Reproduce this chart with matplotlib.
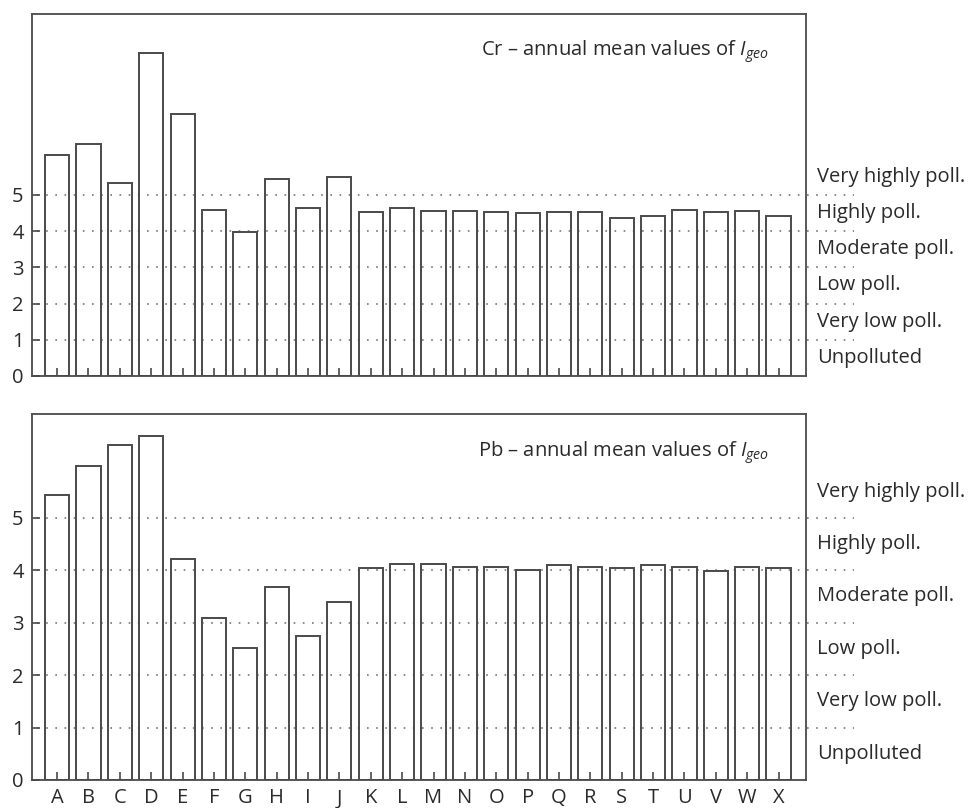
import matplotlib.pyplot as plt
import matplotlib.transforms as mtransforms
import numpy as np

plt.rcParams['font.family'] = ['Open Sans', 'DejaVu Sans']
plt.rcParams['mathtext.fontset'] = 'custom'
plt.rcParams['mathtext.it'] = 'Open Sans:italic'
plt.rcParams['mathtext.rm'] = 'Open Sans'

sites = list('ABCDEFGHIJKLMNOPQRSTUVWX')

cr_igeo = [6.11, 6.42, 5.34, 8.93, 7.23, 4.58, 3.98, 5.45, 4.63, 5.49, 4.53, 4.64,
           4.55, 4.55, 4.52, 4.50, 4.52, 4.53, 4.37, 4.43, 4.58, 4.53, 4.57, 4.43]
pb_igeo = [5.44, 5.99, 6.39, 6.56, 4.22, 3.08, 2.52, 3.68, 2.74, 3.39, 4.04, 4.11,
           4.12, 4.07, 4.07, 4.01, 4.10, 4.07, 4.04, 4.10, 4.07, 3.98, 4.06, 4.04]

classes = ['Unpolluted', 'Very low poll.', 'Low poll.', 'Moderate poll.',
           'Highly poll.', 'Very highly poll.']
class_bounds = [1, 2, 3, 4, 5]

panels = [
    (cr_igeo, 'Cr', 10.0, [0.0329, 0.5347, 0.795, 0.448]),
    (pb_igeo, 'Pb', 6.98, [0.0329, 0.0347, 0.795, 0.453]),
]

edge = '#4a4a4a'
txt = '#2a2a2a'
fs = 14.5
fig = plt.figure(figsize=(9.73, 8.08), dpi=100)

for i, (vals, metal, ytop, rect) in enumerate(panels):
    ax = fig.add_axes(rect)
    x = np.arange(len(sites))
    trans = mtransforms.blended_transform_factory(ax.transAxes, ax.transData)
    for b in class_bounds:
        ax.plot([0.006, 1.063], [b, b], transform=trans, clip_on=False,
                color='#777777', linestyle=(0, (1, 4.5)), linewidth=1.2, zorder=1)
    ax.bar(x, vals, width=0.77, facecolor='none', edgecolor=edge,
           linewidth=1.4, zorder=2)
    ax.set_xlim(-0.8, 23.86)
    ax.set_ylim(0, ytop)
    ax.set_yticks(range(6))
    ax.set_xticks(x)
    if i == 1:
        ax.set_xticklabels(sites)
    else:
        ax.set_xticklabels([])
    ax.tick_params(direction='in', length=6, width=1.2, color=edge,
                   labelsize=fs, labelcolor=txt, pad=6)
    for s in ax.spines.values():
        s.set_color(edge)
        s.set_linewidth(1.3)
    for k, name in enumerate(classes):
        ax.text(1.015, k + 0.5, name, transform=trans, ha='left', va='center',
                fontsize=fs, color=txt, clip_on=False)
    ax.text(0.953, 0.895, metal + r' – annual mean values of $I_{geo}$',
            transform=ax.transAxes, ha='right', va='center', fontsize=fs,
            color=txt)

fig.savefig('out.png', dpi=100)
